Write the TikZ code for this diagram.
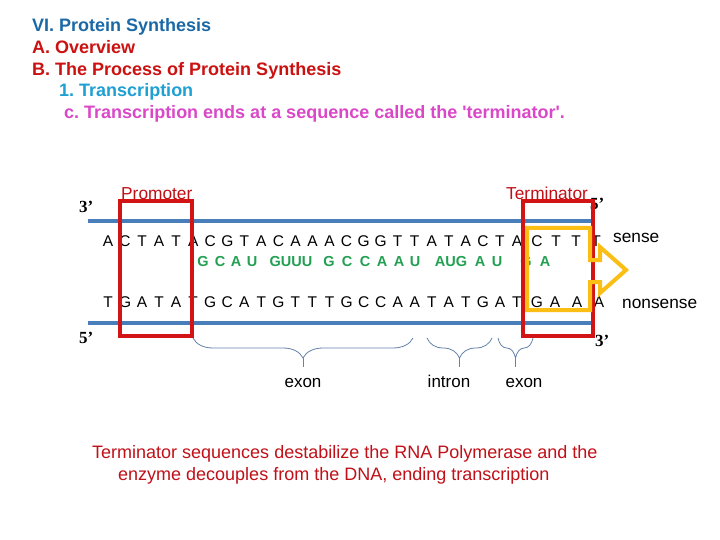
\documentclass[tikz,border=0pt]{standalone}
\usepackage{fontspec}
\setmainfont{Liberation Sans}
\newfontfamily\primefont{Liberation Serif}
\usetikzlibrary{decorations.pathreplacing}
\frenchspacing

\definecolor{headblue}{RGB}{27,104,166}
\definecolor{headred}{RGB}{204,17,17}
\definecolor{subcyan}{RGB}{30,160,210}
\definecolor{submagenta}{RGB}{218,72,200}
\definecolor{tagred}{RGB}{192,16,24}
\definecolor{strandblue}{RGB}{74,126,187}
\definecolor{rnagreen}{RGB}{34,160,82}
\definecolor{boxred}{RGB}{210,20,20}
\definecolor{arrowgold}{RGB}{250,190,20}
\definecolor{bracegray}{RGB}{100,130,170}

\begin{document}
\begin{tikzpicture}[x=1pt, y=-1pt, every node/.style={inner sep=0pt},
    heading/.style={anchor=base west, font=\fontsize{18}{21}\selectfont\bfseries},
    dnabase/.style={anchor=base, font=\fontsize{15.5}{18}\selectfont},
    rna/.style={anchor=base, text=rnagreen, font=\fontsize{14.5}{17}\selectfont\bfseries},
    prime/.style={anchor=base west, font=\fontsize{17}{20}\selectfont\primefont\bfseries},
    tag/.style={anchor=base west, font=\fontsize{17.3}{20}\selectfont},
    strand/.style={strandblue, line width=4pt},
    region/.style={boxred, line width=3.5pt},
    exonbrace/.style={bracegray, line width=0.8pt, decorate, decoration={brace, mirror, amplitude=20pt}}]
    \fill[white] (0,0) rectangle (720,540);
    \useasboundingbox (0,0) rectangle (720,540);

    % headings
    \node[heading, text=headblue] (sec) at (32,32) {VI. Protein Synthesis};
    \node[heading, text=headred] (overview) at (32,54) {A. Overview};
    \node[heading, text=headred] (process) at (32,76) {B. The Process of Protein Synthesis};
    \node[heading, text=subcyan] (transcr) at (59,97) {1. Transcription};
    \node[heading, text=submagenta] (ends) at (64,119)
        {c. Transcription ends at a sequence called the \textquotesingle terminator\textquotesingle.};

    % strands
    \draw[strand] (88,221) -- (592,221);
    \draw[strand] (88,323) -- (592,323);
    \node[prime] (top3) at (79,213) {3’};
    \node[prime] (top5) at (590,210) {5’};
    \node[prime] (bot5) at (79,343) {5’};
    \node[prime] (bot3) at (595,346) {3’};

    % sense strand
    \foreach \b [count=\i] in {A,C,T,A,T,A,C,G,T,A,C,A,A,A,C,G,G,T,T,A,T,A,C,T,A}
        \node[dnabase] (s\i) at ({108+17.04*(\i-1)},246) {\b};
    \foreach \b/\x [count=\i from 26] in {C/537,T/556,T/576,T/596}
        \node[dnabase] (s\i) at (\x,246) {\b};
    \node[tag] (sense) at (613,243) {sense};

    % nonsense strand
    \foreach \b [count=\i] in {T,G,A,T,A,T,G,C,A,T,G,T,T,T,G,C,C,A,A,T,A,T,G,A,T}
        \node[dnabase] (n\i) at ({108+17.04*(\i-1)},307) {\b};
    \foreach \b/\x [count=\i from 26] in {G/537,A/555,A/577,A/599}
        \node[dnabase] (n\i) at (\x,307) {\b};
    \node[tag] (nonsense) at (622,308) {nonsense};

    % mRNA
    \foreach \x/\b [count=\i] in {203/G,220/C,236/A,252/U,291/GUUU,329/G,347/C,365/C,382/A,399/A,
            415/U,451/AUG,480/A,497/U,526/G,545/A}
        \node[rna] (r\i) at (\x,266) {\b};

    % promoter and terminator
    \node[tag, text=tagred] (promoter) at (121,200) {Promoter};
    \node[tag, text=tagred] (terminator) at (506,200) {Terminator};
    \draw[region] (120,201) rectangle (192,336);
    \draw[region] (523,201) rectangle (593,336);
    \draw[arrowgold, line width=4pt] (527,228) -- (590,228) -- (590,260) -- (600,260) -- (600,247)
        -- (626,270) -- (600,293) -- (600,282) -- (590,282) -- (590,310) -- (527,310) -- cycle;

    % exons and intron
    \foreach \a/\b in {193/413, 427/492, 498/533} {
        \draw[exonbrace] (\a,338) -- (\b,338);
        \draw[bracegray, line width=0.8pt] ({(\a+\b)/2},358) -- ({(\a+\b)/2},367);
    }
    \node[dnabase, font=\fontsize{17}{20}\selectfont] (exon1) at (303,387) {exon};
    \node[dnabase, font=\fontsize{17}{20}\selectfont] (intron) at (449,387) {intron};
    \node[dnabase, font=\fontsize{17}{20}\selectfont] (exon2) at (524,387) {exon};

    % note
    \node[tag, text=tagred, font=\fontsize{18}{21}\selectfont] (note1) at (92,458)
        {Terminator sequences destabilize the RNA Polymerase and the};
    \node[tag, text=tagred, font=\fontsize{18}{21}\selectfont] (note2) at (118,480)
        {enzyme decouples from the DNA, ending transcription};
\end{tikzpicture}
\end{document}
